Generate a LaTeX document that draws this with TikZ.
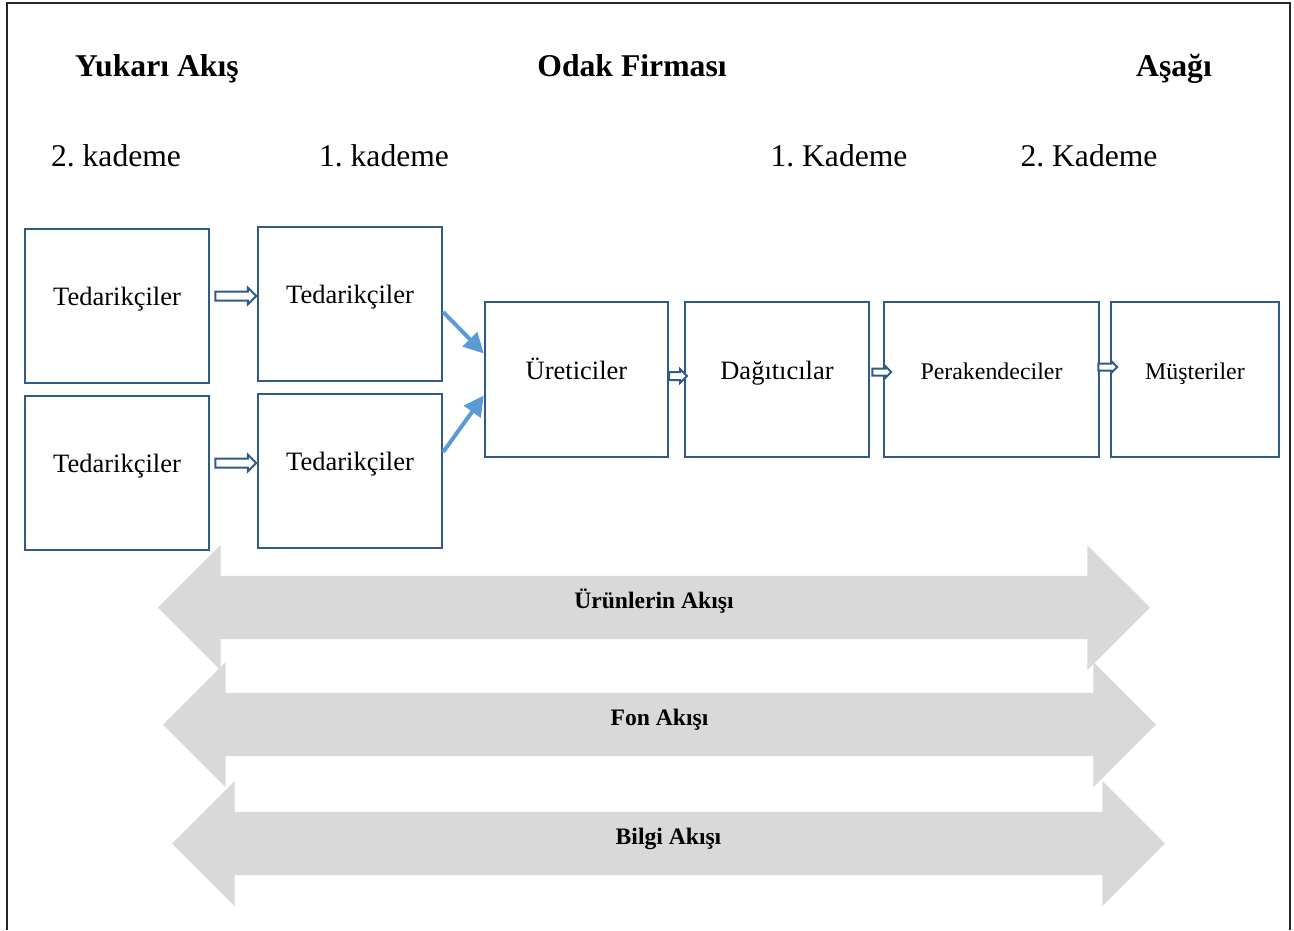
\documentclass[tikz,border=0pt]{standalone}
\usepackage{fontspec}
\setmainfont{Liberation Serif}
\usepackage{tikz}
\usetikzlibrary{shapes.arrows,arrows.meta}
\definecolor{boxblue}{HTML}{2F5A8A}
\definecolor{lightblue}{HTML}{5B9BD5}
\definecolor{flowgray}{HTML}{D9D9D9}
\tikzstyle{firm} = [rectangle, draw=boxblue, line width=2.4pt, text centered, minimum height=154pt, inner sep=0pt, text height=18pt, text depth=19pt, font=\fontsize{26.5}{30}\selectfont]
\tikzstyle{heading} = [text height=22pt, text depth=7pt, font=\bfseries\fontsize{31.7}{36}\selectfont]
\tikzstyle{tier} = [text height=22pt, text depth=7pt, font=\fontsize{31.6}{36}\selectfont]
\tikzstyle{hollow} = [single arrow, draw=boxblue, fill=white, line width=2pt, inner xsep=0pt]
\tikzstyle{flow} = [double arrow, fill=flowgray, inner xsep=0pt, inner ysep=16.5pt, double arrow head extend=31pt, text height=16pt, text depth=14pt, font=\bfseries\fontsize{23.6}{28}\selectfont]
\tikzstyle{connector} = [line width=4pt, lightblue, -{Triangle[length=20pt,width=20pt]}]

\begin{document}
\frenchspacing
\begin{tikzpicture}[x=1pt, y=-1pt]
    \useasboundingbox (0,0) rectangle (1294,930);
    \draw [line width=2.5pt, black!85] (7,930) |- (1290,3) -- (1290,930);
    % headings
    \node (upstream) [heading] at (157,69) {Yukarı Akış};
    \node (focal) [heading] at (632,69) {Odak Firması};
    \node (downstream) [heading] at (1174,69) {Aşağı};
    \node (tier2-up) [tier] at (116,159) {2. kademe};
    \node (tier1-up) [tier] at (384,159) {1. kademe};
    \node (tier1-down) [tier] at (839,159) {1. Kademe};
    \node (tier2-down) [tier] at (1089,159) {2. Kademe};
    % boxes
    \node (tier2-top) [firm, minimum width=184pt] at (117,306) {Tedarikçiler};
    \node (tier2-bottom) [firm, minimum width=184pt] at (117,473) {Tedarikçiler};
    \node (tier1-top) [firm, minimum width=184pt] at (350,304) {Tedarikçiler};
    \node (tier1-bottom) [firm, minimum width=184pt] at (350,471) {Tedarikçiler};
    \node (producers) [firm, minimum width=183pt, minimum height=155pt] at (576.5,379.5) {Üreticiler};
    \node (distributors) [firm, minimum width=184pt, minimum height=155pt] at (777,379.5) {Dağıtıcılar};
    \node (retailers) [firm, minimum width=215pt, minimum height=155pt, font=\fontsize{23.9}{28}\selectfont] at (991.5,379.5) {Perakendeciler};
    \node (customers) [firm, minimum width=168pt, minimum height=155pt, font=\fontsize{23.9}{28}\selectfont] at (1195,379.5) {Müşteriler};
    % hollow arrows
    \node (push-top) [hollow, minimum height=41pt, inner ysep=3.5pt, single arrow head extend=4pt] at (233.5,296) {};
    \node (push-bottom) [hollow, minimum height=41pt, inner ysep=3.5pt, single arrow head extend=4pt] at (233.5,463) {};
    \node (push-prod) [hollow, minimum height=18pt, inner ysep=3pt, single arrow head extend=3pt] at (676,376) {};
    \node (push-dist) [hollow, minimum height=19pt, inner ysep=2.5pt, single arrow head extend=2.5pt] at (880,372) {};
    \node (push-ret) [hollow, minimum height=19pt, inner ysep=2.5pt, single arrow head extend=2.5pt] at (1106,367) {};
    % flows
    \node (products) [flow, minimum height=992pt] at (654,607.5) {Ürünlerin Akışı};
    \node (funds) [flow, minimum height=993pt] at (659.5,724.5) {Fon Akışı};
    \node (info) [flow, minimum height=993pt] at (668.5,843.5) {Bilgi Akışı};
    \draw [connector] ([yshift=-8pt]tier1-top.east) -- ([yshift=26pt]producers.west);
    \draw [connector] ([yshift=19pt]tier1-bottom.east) -- ([yshift=-16pt]producers.west);
\end{tikzpicture}
\end{document}
